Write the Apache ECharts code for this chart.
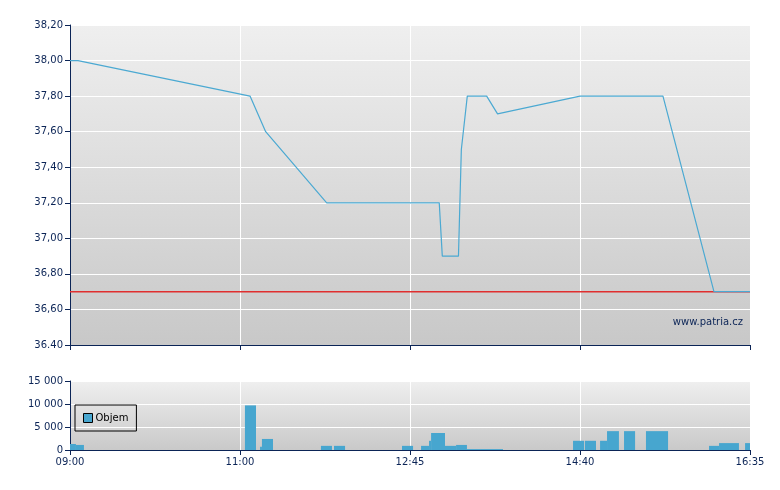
<!DOCTYPE html>
<html>
<head>
<meta charset="utf-8">
<script src="https://cdn.jsdelivr.net/npm/echarts@6/dist/echarts.min.js"></script>
<style>html,body{margin:0;padding:0;background:#fff}#c{width:780px;height:490px}</style>
</head>
<body>
<div id="c"></div>
<script>
// X positions are in "session quarter" units: 0 = 09:00, 1 = 11:00, 2 = 12:45, 3 = 14:40, 4 = 16:35
const timeTickLabels = ['09:00', '11:00', '12:45', '14:40', '16:35'];
const priceTickLabels = ['36.40', '36,60', '36,80', '37,00', '37,20', '37,40', '37,60', '37,80', '38,00', '38,20'];
const volumeTickLabels = ['0', '5 000', '10 000', '15 000'];

const priceX = [0, 0.047, 1.059, 1.151, 1.157, 1.510, 2.172, 2.190, 2.285, 2.302, 2.337, 2.451, 2.515, 3.0, 3.488, 3.788, 4.0];
const priceY = [38.00, 38.00, 37.80, 37.60, 37.595, 37.20, 37.20, 36.90, 36.90, 37.50, 37.80, 37.80, 37.70, 37.80, 37.80, 36.70, 36.70];
const previousClose = 36.70;
const sessionBounds = [0, 4];

const volStart = [0, 0.035, 1.029, 1.118, 1.129, 1.476, 1.553, 1.953, 2.065, 2.112, 2.124, 2.206, 2.271, 2.335, 2.412, 2.959, 3.029, 3.118, 3.159, 3.259, 3.388, 3.759, 3.818, 3.971];
const volEnd   = [0.035, 0.082, 1.094, 1.129, 1.194, 1.541, 1.618, 2.018, 2.112, 2.124, 2.206, 2.271, 2.335, 2.412, 2.547, 3.024, 3.094, 3.159, 3.229, 3.324, 3.518, 3.818, 3.935, 4.0];
const volValue = [1300, 1100, 9700, 700, 2400, 900, 900, 900, 900, 2000, 3700, 900, 1100, 200, 200, 2000, 2000, 2000, 4100, 4100, 4100, 900, 1500, 1500];

const navy = '#0b2456';
const font = 'DejaVu Sans';
const chart = echarts.init(document.getElementById('c'), null, {renderer: 'canvas'});

function bg(top, bottom) {
  return new echarts.graphic.LinearGradient(0, 0, 0, 1, [{offset: 0, color: top}, {offset: 1, color: bottom}]);
}

const priceData = priceX.map((x, i) => [x, priceY[i]]);
const closeData = sessionBounds.map(x => [x, previousClose]);
const volData = volStart.map((s, i) => [s, volEnd[i], volValue[i]]);

chart.setOption({
  animation: false,
  backgroundColor: '#fff',
  grid: [
    {left: 70, right: 30, top: 25, height: 320, show: true, borderWidth: 0, backgroundColor: bg('#efefef', '#c8c8c8')},
    {left: 70, right: 30, top: 381, height: 69, show: true, borderWidth: 0, backgroundColor: bg('#efefef', '#c9c9c9')}
  ],
  legend: {
    data: ['Objem'],
    left: 75, top: 405,
    orient: 'vertical',
    icon: 'rect',
    itemWidth: 9, itemHeight: 9,
    padding: [8, 8, 8, 8],
    borderColor: '#000', borderWidth: 1, borderRadius: 0,
    backgroundColor: 'transparent',
    itemStyle: {borderColor: '#000', borderWidth: 1},
    textStyle: {fontFamily: font, fontSize: 10, color: '#000', padding: [0, 0, 0, -2]},
    selectedMode: false
  },
  xAxis: [
    {
      type: 'value', gridIndex: 0, min: 0, max: 4, interval: 1,
      axisLine: {show: true, onZero: false, lineStyle: {color: navy, width: 1}},
      axisTick: {show: true, length: 5, lineStyle: {color: navy}},
      axisLabel: {show: false},
      splitLine: {show: true, lineStyle: {color: '#ffffff', width: 1}}
    },
    {
      type: 'value', gridIndex: 1, min: 0, max: 4, interval: 1,
      axisLine: {show: true, onZero: false, lineStyle: {color: navy, width: 1}},
      axisTick: {show: true, length: 5, lineStyle: {color: navy}},
      axisLabel: {show: true, color: navy, fontFamily: font, fontSize: 10, margin: 7,
        formatter: v => timeTickLabels[Math.round(v)]},
      splitLine: {show: true, lineStyle: {color: '#ffffff', width: 1}}
    }
  ],
  yAxis: [
    {
      type: 'value', gridIndex: 0, min: 36.4, max: 38.2, interval: 0.2,
      axisLine: {show: true, lineStyle: {color: navy, width: 1}},
      axisTick: {show: true, length: 5, lineStyle: {color: navy}},
      axisLabel: {color: navy, fontFamily: font, fontSize: 10, margin: 7,
        formatter: v => priceTickLabels[Math.round((v - 36.4) / 0.2)]},
      splitLine: {show: true, lineStyle: {color: '#ffffff', width: 1}}
    },
    {
      type: 'value', gridIndex: 1, min: 0, max: 15000, interval: 5000,
      axisLine: {show: true, lineStyle: {color: navy, width: 1}},
      axisTick: {show: true, length: 5, lineStyle: {color: navy}},
      axisLabel: {color: navy, fontFamily: font, fontSize: 10, margin: 7,
        formatter: v => volumeTickLabels[Math.round(v / 5000)]},
      splitLine: {show: true, lineStyle: {color: '#ffffff', width: 1}}
    }
  ],
  series: [
    {
      name: 'Předchozí', type: 'line', xAxisIndex: 0, yAxisIndex: 0,
      data: closeData, symbol: 'none', silent: true,
      lineStyle: {color: '#e02f2f', width: 1.5},
      z: 2
    },
    {
      name: 'Cena', type: 'line', xAxisIndex: 0, yAxisIndex: 0,
      data: priceData, symbol: 'none', smooth: false,
      lineStyle: {color: '#4ba9d2', width: 1.2},
      z: 3
    },
    {
      name: 'Objem', type: 'custom', xAxisIndex: 1, yAxisIndex: 1,
      data: volData,
      encode: {x: [0, 1], y: 2},
      itemStyle: {color: '#47a6cf'},
      renderItem: function (params, api) {
        const p0 = api.coord([api.value(0), api.value(2)]);
        const p1 = api.coord([api.value(1), 0]);
        return {
          type: 'rect',
          shape: {x: p0[0], y: p0[1], width: p1[0] - p0[0], height: p1[1] - p0[1]},
          style: api.style()
        };
      }
    }
  ],
  graphic: [
    {type: 'text', right: 37, top: 317,
     style: {text: 'www.patria.cz', fill: navy, font: '10px "DejaVu Sans"'}}
  ]
});
</script>
</body>
</html>
